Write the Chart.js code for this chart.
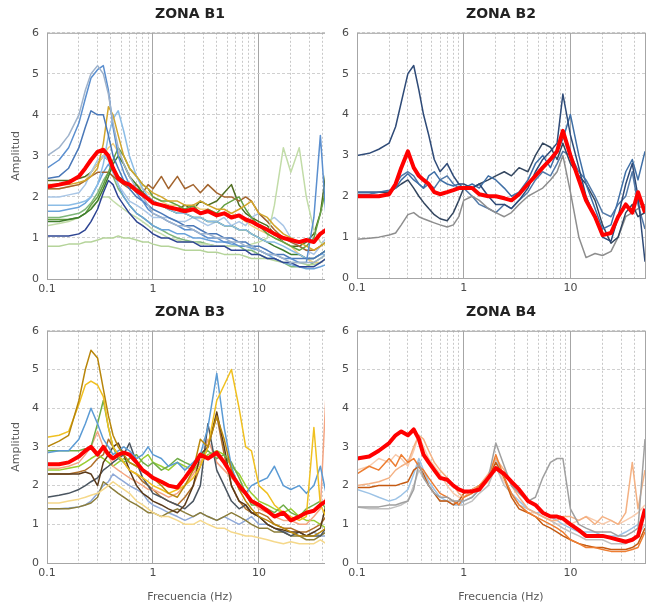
<!DOCTYPE html>
<html>
<head>
<meta charset="utf-8">
<script src="https://cdn.jsdelivr.net/npm/chart.js@4.4.1/dist/chart.umd.min.js"></script>
<style>
  body { margin: 0; background: #fff; }
  .panel { position: absolute; overflow: hidden; background: #fff; }
  .panel canvas { position: absolute; left: 0; top: 0; }
</style>
</head>
<body>
<div class="panel" style="left:0;top:0;width:325px;height:298px"><canvas id="b1" width="337" height="298"></canvas></div>
<div class="panel" style="left:325px;top:0;width:322px;height:298px"><canvas id="b2" width="324" height="298"></canvas></div>
<div class="panel" style="left:0;top:298px;width:325px;height:306px"><canvas id="b3" width="337" height="306"></canvas></div>
<div class="panel" style="left:325px;top:298px;width:322px;height:306px"><canvas id="b4" width="324" height="306"></canvas></div>
<script>
// Frequencies (Hz) shared by every curve
const freq = [0.1, 0.13, 0.16, 0.2, 0.23, 0.26, 0.3, 0.34, 0.38, 0.42, 0.47, 0.53, 0.6, 0.7, 0.8, 0.9, 1, 1.2, 1.4, 1.7, 2, 2.4, 2.8, 3.3, 4, 4.7, 5.5, 6.5, 7.5, 8.5, 10, 12, 14, 17, 20, 24, 28, 33, 38, 43, 50];
const xTicks = [0.1, 0.2, 0.3, 0.4, 0.5, 0.6, 0.7, 0.8, 0.9, 1, 2, 3, 4, 5, 6, 7, 8, 9, 10, 20, 30, 40, 50];
const xLabels = [0.1, 1, 10];

// ZONA B1
const b1Mean = [2.25,2.3,2.35,2.5,2.7,2.9,3.1,3.15,3.0,2.7,2.45,2.35,2.3,2.15,2.05,1.95,1.85,1.8,1.75,1.7,1.65,1.7,1.6,1.65,1.55,1.6,1.5,1.55,1.45,1.4,1.3,1.2,1.1,1.0,0.95,0.9,0.95,0.9,1.1,1.2,1.3];
const b1Lines = [
  [3.0,3.2,3.5,4.0,4.6,5.0,5.2,5.0,4.5,3.8,3.2,2.8,2.5,2.2,2.0,1.8,1.6,1.5,1.4,1.3,1.3,1.2,1.1,1.1,1.0,1.0,0.9,0.9,0.8,0.8,0.7,0.6,0.6,0.5,0.4,0.4,0.4,0.4,0.5,0.6,0.8],
  [2.7,2.9,3.2,3.8,4.4,4.9,5.1,5.2,4.6,3.7,3.0,2.6,2.3,2.1,1.9,1.7,1.6,1.5,1.4,1.3,1.2,1.2,1.1,1.0,1.0,0.9,0.9,0.8,0.8,0.8,0.7,0.6,0.6,0.5,0.5,0.4,0.4,1.5,3.5,1.5,3.1],
  [2.45,2.5,2.7,3.2,3.7,4.1,4.0,4.0,3.5,3.0,2.7,2.4,2.2,2.0,1.9,1.8,1.7,1.6,1.5,1.4,1.3,1.3,1.2,1.1,1.1,1.0,1.0,0.9,0.9,0.8,0.8,0.7,0.6,0.6,0.5,0.5,0.5,0.5,0.6,0.7,0.9],
  [2.3,2.3,2.3,2.35,2.4,2.5,2.7,3.3,4.2,4.0,3.5,3.0,2.7,2.5,2.3,2.2,2.1,2.0,1.9,1.9,1.8,1.8,1.9,1.8,1.7,1.7,1.6,1.7,1.8,1.9,1.6,1.5,1.3,1.1,1.0,0.9,0.8,0.7,0.8,0.9,1.2],
  [1.8,1.8,1.8,1.85,1.9,2.0,2.3,2.8,3.5,3.9,4.1,3.6,3.0,2.5,2.2,2.0,1.9,1.8,1.7,1.6,1.6,1.5,1.5,1.4,1.4,1.3,1.3,1.2,1.2,1.1,1.0,0.9,0.9,0.8,0.7,0.6,0.5,0.5,0.6,0.6,0.7],
  [1.4,1.4,1.45,1.5,1.6,1.7,1.9,2.2,2.5,2.8,3.0,2.8,2.5,2.3,2.1,2.0,1.9,1.8,1.7,1.6,1.6,1.5,1.5,1.4,1.4,1.3,1.3,1.2,1.2,1.1,1.0,0.9,0.8,0.7,0.6,0.6,0.5,0.5,0.6,0.7,1.0],
  [1.45,1.45,1.45,1.5,1.6,1.8,2.0,2.3,2.6,2.9,3.2,3.0,2.7,2.5,2.3,2.2,2.0,1.9,1.9,1.8,1.7,1.8,1.6,1.7,1.6,1.8,1.9,2.0,1.7,1.5,1.3,1.1,1.0,0.9,0.8,0.7,0.8,1.0,1.6,2.2,2.5],
  [1.05,1.05,1.05,1.1,1.2,1.4,1.7,2.1,2.4,2.3,2.0,1.8,1.6,1.4,1.3,1.2,1.1,1.0,1.0,0.9,0.9,0.9,0.8,0.8,0.8,0.8,0.7,0.7,0.7,0.6,0.6,0.5,0.5,0.4,0.4,0.3,0.3,0.3,0.4,0.5,0.7],
  [0.8,0.8,0.85,0.85,0.9,0.9,0.95,1.0,1.0,1.0,1.05,1.0,1.0,0.95,0.9,0.9,0.85,0.8,0.8,0.75,0.7,0.7,0.7,0.65,0.65,0.6,0.6,0.6,0.55,0.5,0.5,0.5,0.45,0.4,0.4,0.4,0.35,0.35,0.4,0.5,0.6],
  [1.3,1.35,1.4,1.5,1.6,1.75,1.9,2.0,2.0,1.9,1.8,1.7,1.6,1.5,1.4,1.3,1.2,1.1,1.0,0.95,0.9,0.9,0.85,0.85,0.8,0.8,0.8,0.8,0.8,0.85,0.9,1.0,1.8,3.2,2.6,3.2,2.0,1.2,0.9,0.8,0.7],
  [2.2,2.2,2.25,2.3,2.4,2.5,2.6,2.6,2.6,2.5,2.4,2.3,2.2,2.3,2.1,2.3,2.2,2.5,2.2,2.5,2.2,2.3,2.1,2.3,2.1,2.0,2.0,1.9,2.0,1.9,1.6,1.4,1.2,1.0,0.9,0.8,0.7,0.7,0.8,0.9,1.0],
  [2.0,2.0,2.05,2.1,2.3,2.6,2.9,3.0,2.9,2.6,2.3,2.1,1.9,1.8,1.7,1.6,1.5,1.5,1.5,1.4,1.4,1.5,1.4,1.3,1.4,1.5,1.3,1.4,1.3,1.5,1.6,1.4,1.5,1.3,1.0,0.8,0.7,0.6,0.8,1.0,1.1],
  [2.2,2.2,2.25,2.3,2.4,2.6,2.8,3.0,3.2,3.3,3.1,2.8,2.5,2.3,2.2,2.1,2.0,1.9,1.8,1.8,1.7,1.8,1.7,1.7,1.6,1.6,1.6,1.5,1.4,1.3,1.2,1.1,1.0,0.9,0.8,0.6,0.5,0.4,0.4,0.5,0.6],
  [1.65,1.65,1.7,1.75,1.85,2.0,2.3,2.6,2.8,2.6,2.3,2.0,1.8,1.6,1.5,1.4,1.3,1.2,1.2,1.1,1.1,1.0,1.0,0.95,0.9,0.9,0.85,0.8,0.8,0.75,0.7,0.6,0.5,0.4,0.35,0.3,0.25,0.25,0.3,0.35,0.4],
  [1.5,1.5,1.55,1.6,1.7,1.85,2.1,2.4,2.6,2.5,2.2,2.0,1.8,1.6,1.5,1.4,1.3,1.2,1.1,1.0,0.95,0.9,0.9,0.85,0.8,0.8,0.8,0.8,0.7,0.7,0.6,0.5,0.5,0.4,0.3,0.3,0.3,0.4,0.5,0.6,0.8],
  [2.4,2.4,2.4,2.45,2.5,2.6,2.8,3.0,2.9,2.7,2.5,2.4,2.3,2.2,2.1,2.0,1.9,1.8,1.8,1.7,1.8,1.7,1.9,1.8,1.9,2.1,2.3,1.8,1.6,1.5,1.4,1.3,1.1,0.9,0.8,0.8,0.9,1.1,1.6,2.6,2.2]
];
const b1Colors = ['#9fb3cc', '#5b8fcf', '#4a78b8', '#d2a62c', '#8cbde6', '#3f7d2c', '#64a043', '#2e4593', '#b5d49a', '#c2dca8', '#a3652f', '#a9c6e6', '#f2cf7e', '#6aa3db', '#7fb77a', '#4f6d20'];

// ZONA B2
const b2Mean = [2.0,2.0,2.0,2.05,2.3,2.7,3.1,2.7,2.5,2.4,2.3,2.1,2.05,2.1,2.15,2.2,2.2,2.2,2.05,2.0,2.0,1.95,1.9,2.05,2.3,2.5,2.7,2.9,3.1,3.6,3.0,2.4,1.9,1.5,1.05,1.1,1.5,1.8,1.6,2.1,1.6];
const b2Lines = [
  [3.0,3.05,3.15,3.3,3.7,4.3,5.0,5.2,4.6,4.0,3.5,2.9,2.6,2.8,2.5,2.3,2.3,2.2,2.3,2.0,1.8,1.8,1.7,1.9,2.2,2.6,2.9,3.1,3.3,4.5,3.5,2.7,2.0,1.5,1.0,0.9,1.5,2.3,2.8,2.0,0.4],
  [2.1,2.1,2.1,2.15,2.2,2.4,2.55,2.4,2.3,2.2,2.5,2.6,2.4,2.3,2.25,2.3,2.2,2.3,2.2,2.5,2.4,2.2,2.0,2.1,2.4,2.8,3.0,2.7,3.1,3.4,4.0,3.0,2.3,1.7,1.2,1.3,1.9,2.6,2.9,2.4,3.1],
  [2.1,2.1,2.1,2.1,2.2,2.3,2.4,2.2,2.0,1.85,1.7,1.55,1.45,1.4,1.6,1.9,2.2,2.2,2.3,2.4,2.5,2.6,2.5,2.7,2.6,3.0,3.3,3.2,2.9,3.3,2.8,2.5,2.3,1.9,1.3,0.85,1.0,1.6,1.8,1.5,1.6],
  [0.95,0.97,1.0,1.05,1.1,1.3,1.55,1.6,1.5,1.45,1.4,1.35,1.3,1.25,1.3,1.5,1.9,2.0,1.9,1.7,1.6,1.5,1.6,1.8,2.0,2.1,2.2,2.4,2.6,3.0,2.1,1.0,0.5,0.6,0.55,0.65,1.0,1.5,1.6,1.7,1.8],
  [2.05,2.05,2.1,2.1,2.3,2.5,2.6,2.5,2.3,2.2,2.3,2.2,2.4,2.5,2.3,2.2,2.2,2.0,1.8,1.7,1.6,1.8,1.7,1.9,2.1,2.4,2.6,2.5,2.8,3.1,3.0,2.6,2.4,2.0,1.6,1.5,1.8,2.0,2.6,1.8,1.2]
];
const b2Colors = ['#2f4b78', '#3f6fa6', '#33465f', '#8e8e8e', '#5279a8'];

// ZONA B3
const b3Mean = [2.55,2.55,2.6,2.75,2.9,3.0,2.8,3.0,2.8,2.7,2.8,2.85,2.8,2.6,2.4,2.3,2.2,2.1,2.0,1.95,2.2,2.5,2.8,2.7,2.85,2.6,2.3,2.0,1.8,1.6,1.5,1.35,1.2,1.3,1.1,1.2,1.3,1.35,1.5,1.6,2.1];
const b3Lines = [
  [3.0,3.15,3.3,4.2,5.0,5.5,5.3,4.5,3.8,3.3,3.0,2.8,2.6,2.5,2.4,2.3,2.2,2.0,1.8,1.7,2.0,2.4,3.2,3.0,3.8,3.2,2.4,1.9,1.6,1.4,1.2,1.1,1.0,0.9,0.8,0.7,0.7,0.7,0.8,0.9,1.0],
  [3.25,3.3,3.4,4.1,4.6,4.7,4.6,4.3,3.5,3.0,2.8,2.6,2.4,2.3,2.2,2.1,2.0,1.9,1.8,1.9,2.0,2.2,2.5,3.0,4.2,4.6,5.0,4.0,3.0,2.9,2.0,1.8,1.5,1.3,1.2,1.1,1.2,3.5,1.5,1.2,0.3],
  [2.85,2.9,2.9,3.2,3.6,4.0,3.6,3.2,3.0,2.8,2.9,3.0,2.9,2.7,2.8,3.0,2.8,2.7,2.5,2.6,2.4,2.6,2.8,3.5,4.9,3.5,2.5,1.9,1.8,2.0,2.1,2.2,2.5,2.0,1.9,2.0,1.8,2.0,2.5,1.8,1.2],
  [2.9,2.9,2.9,2.9,2.95,3.0,3.6,4.2,3.5,3.0,2.7,2.6,2.7,2.8,2.6,2.5,2.6,2.4,2.5,2.7,2.6,2.5,2.8,2.9,2.7,2.8,2.6,2.2,1.8,1.5,1.5,1.4,1.3,1.5,1.3,1.2,1.4,1.5,1.6,1.4,1.2],
  [2.3,2.3,2.3,2.3,2.35,2.3,2.0,2.6,2.8,3.0,3.1,2.8,2.4,2.0,1.8,1.7,1.6,1.5,1.4,1.3,1.5,2.0,2.8,3.0,3.9,3.0,2.0,1.6,1.5,1.3,1.2,1.0,0.9,0.85,0.8,0.8,0.7,0.8,0.9,1.5,3.0],
  [1.7,1.75,1.8,1.9,2.0,2.1,2.2,2.4,2.5,2.6,2.7,2.8,3.1,2.6,2.2,2.0,1.8,1.7,1.6,1.5,1.4,1.6,2.0,3.6,2.4,2.0,1.6,1.4,1.5,1.3,1.2,1.0,0.9,0.8,0.7,0.8,0.7,0.7,0.7,0.9,1.1],
  [1.55,1.55,1.6,1.65,1.7,1.75,1.8,1.9,2.0,2.1,2.0,1.9,1.8,1.6,1.5,1.4,1.3,1.2,1.2,1.1,1.0,1.0,1.1,1.0,0.9,0.9,0.8,0.75,0.7,0.7,0.65,0.6,0.55,0.5,0.55,0.5,0.5,0.5,0.6,0.5,0.4],
  [1.4,1.4,1.4,1.45,1.5,1.55,1.7,2.1,2.0,1.9,1.8,1.7,1.6,1.5,1.4,1.3,1.3,1.2,1.3,1.4,1.3,1.2,1.3,1.2,1.1,1.2,1.3,1.2,1.1,1.0,0.9,0.9,0.8,0.8,0.7,0.7,0.6,0.6,0.7,0.8,0.9],
  [1.4,1.4,1.42,1.45,1.5,1.6,1.8,2.0,2.1,2.3,2.2,2.1,2.0,1.9,1.8,1.6,1.5,1.4,1.3,1.2,1.1,1.2,1.3,1.2,1.1,1.2,1.1,1.0,1.1,1.2,1.0,1.0,0.9,0.8,0.8,0.7,0.7,0.8,0.7,0.7,0.8],
  [2.45,2.45,2.5,2.6,2.8,3.0,3.4,3.0,2.8,2.5,2.4,2.3,2.2,2.1,2.0,1.9,1.9,1.8,1.7,1.8,2.0,2.3,2.6,3.2,2.6,2.4,2.2,2.0,1.8,1.6,1.4,1.3,1.2,1.1,1.1,1.0,1.0,1.2,1.4,4.4,1.2],
  [2.4,2.4,2.45,2.5,2.6,2.7,2.8,2.7,2.6,2.5,2.6,2.7,2.6,2.5,2.7,2.8,2.6,2.5,2.4,2.6,2.5,2.4,2.6,2.8,2.9,2.8,2.5,2.3,2.0,1.8,1.6,1.5,1.4,1.3,1.4,1.2,1.1,1.1,1.0,0.9,0.8],
  [2.3,2.3,2.3,2.35,2.4,2.5,2.7,2.8,3.2,3.0,2.8,2.6,2.4,2.3,2.1,2.0,1.9,1.7,1.6,1.5,1.7,2.0,2.5,3.0,3.8,2.8,2.0,1.6,1.4,1.3,1.3,1.2,1.0,0.9,0.9,0.8,0.8,0.9,1.0,1.2,2.8]
];
const b3Colors = ['#b8860b', '#f0c020', '#5b9bd5', '#70ad47', '#5a3a1a', '#4a5560', '#f5d88a', '#8b7d3a', '#8fa9d8', '#f4a582', '#9acd32', '#b0702a'];

// ZONA B4
const b4Mean = [2.7,2.75,2.9,3.1,3.3,3.4,3.3,3.45,3.2,2.8,2.6,2.4,2.2,2.15,2.0,1.9,1.85,1.85,1.9,2.2,2.45,2.3,2.1,1.9,1.6,1.5,1.3,1.2,1.2,1.15,1.0,0.85,0.7,0.7,0.7,0.65,0.6,0.55,0.6,0.7,1.4];
const b4Lines = [
  [1.45,1.45,1.45,1.5,1.5,1.55,1.6,1.9,2.6,2.2,2.0,1.8,1.7,1.7,1.6,1.6,1.6,1.7,1.9,2.2,3.1,2.5,2.0,1.8,1.6,1.7,2.2,2.6,2.7,2.7,1.4,1.0,0.9,0.8,0.8,0.8,0.7,0.7,0.8,0.9,3.2],
  [2.3,2.5,2.4,2.7,2.5,2.8,2.6,2.7,2.5,2.4,2.2,2.0,1.8,1.7,1.6,1.5,1.7,1.8,2.0,2.2,2.8,2.2,1.8,1.5,1.3,1.2,1.1,1.0,0.9,0.8,0.6,0.5,0.4,0.4,0.35,0.3,0.3,0.3,0.35,0.4,0.8],
  [2.0,2.05,2.1,2.2,2.4,2.5,2.6,3.0,3.3,3.2,2.9,2.6,2.4,2.2,2.0,1.8,1.7,1.9,2.0,2.3,2.7,2.4,2.0,1.7,1.4,1.3,1.2,1.1,1.1,1.2,1.2,1.1,1.2,1.0,1.2,1.1,1.0,1.3,2.6,1.4,2.4],
  [1.95,1.95,2.0,2.0,2.0,2.05,2.1,2.4,2.5,2.3,2.0,1.8,1.6,1.6,1.5,1.6,1.8,1.9,2.0,2.2,2.6,2.2,1.7,1.4,1.3,1.2,1.0,0.9,0.8,0.7,0.6,0.5,0.45,0.4,0.4,0.35,0.35,0.35,0.4,0.5,0.9],
  [1.9,1.8,1.7,1.6,1.65,1.75,1.9,2.3,2.7,2.4,2.1,1.9,1.7,1.6,1.5,1.5,1.6,1.7,1.9,2.2,2.7,2.2,1.8,1.6,1.4,1.3,1.3,1.2,1.1,1.0,0.9,0.8,0.8,0.8,0.7,0.7,0.7,0.8,0.9,1.0,1.2],
  [1.45,1.4,1.4,1.4,1.45,1.5,1.6,2.0,2.4,2.2,2.0,1.8,1.6,1.6,1.6,1.5,1.5,1.6,1.8,2.0,2.5,2.0,1.8,1.5,1.4,1.3,1.2,1.1,1.0,0.9,0.8,0.7,0.6,0.6,0.6,0.5,0.5,0.5,0.6,0.7,1.0],
  [2.4,2.5,2.7,2.6,2.8,2.7,2.5,2.9,3.3,3.0,2.7,2.5,2.3,2.0,1.8,1.7,1.7,1.8,1.9,2.1,2.5,2.1,1.8,1.5,1.3,1.3,1.2,1.1,1.0,1.0,1.0,1.1,1.2,1.1,1.0,1.1,1.0,1.1,1.2,1.3,1.5]
];
const b4Colors = ['#a0a0a0', '#ed7d31', '#f4b183', '#c55a11', '#9dc3e6', '#c0c0c0', '#f8cbad'];

Chart.defaults.font.family = "'DejaVu Sans', Verdana, sans-serif";
Chart.defaults.color = '#4a4a4a';

// Frame round the plot area
const framePlugin = {
  id: 'frame',
  afterDraw(chart) {
    const a = chart.chartArea;
    const ctx = chart.ctx;
    ctx.save();
    ctx.strokeStyle = '#a6a6a6';
    ctx.lineWidth = 1;
    ctx.strokeRect(a.left + 0.5, a.top + 0.5, a.right - a.left, a.bottom - a.top);
    ctx.restore();
  }
};

function toPoints(vals) {
  return freq.map((f, i) => ({ x: f, y: vals[i] }));
}

function makePanel(id, title, mean, lines, colors, opts) {
  const datasets = [{
    data: toPoints(mean),
    borderColor: '#ff0000',
    borderWidth: 4,
    order: 0
  }];
  lines.forEach((vals, i) => {
    datasets.push({
      data: toPoints(vals),
      borderColor: colors[i],
      borderWidth: 1.5,
      order: 1
    });
  });

  new Chart(document.getElementById(id), {
    type: 'line',
    data: { datasets: datasets },
    plugins: [framePlugin],
    options: {
      responsive: false,
      animation: false,
      layout: { padding: 0 },
      elements: {
        point: { radius: 0 },
        line: { tension: 0, borderJoinStyle: 'round' }
      },
      plugins: {
        legend: { display: false },
        tooltip: { enabled: false },
        title: {
          display: true,
          fullSize: false,
          text: title,
          color: '#222',
          font: { size: 14, weight: 'bold' },
          padding: { top: 6, bottom: 10 }
        }
      },
      scales: {
        x: {
          type: 'logarithmic',
          min: 0.1,
          max: 50,
          afterBuildTicks: scale => { scale.ticks = xTicks.map(v => ({ value: v })); },
          afterFit: scale => { scale.height = opts.xHeight; },
          ticks: {
            autoSkip: false,
            maxRotation: 0,
            font: { size: 11 },
            padding: 4,
            callback: v => xLabels.includes(v) ? String(v) : ''
          },
          grid: {
            drawTicks: false,
            color: c => (c.tick && xLabels.includes(c.tick.value)) ? '#a6a6a6' : '#c8c8c8'
          },
          border: {
            display: false,
            dash: c => (c.tick && xLabels.includes(c.tick.value)) ? [] : [2, 2]
          },
          title: {
            display: opts.xTitle,
            text: 'Frecuencia (Hz)',
            color: '#595959',
            font: { size: 11 },
            padding: { top: 2, bottom: 0 }
          }
        },
        y: {
          min: 0,
          max: 6,
          afterFit: scale => { scale.width = opts.yWidth; },
          ticks: { stepSize: 1, font: { size: 11 }, padding: 8 },
          grid: { drawTicks: false, color: '#d0d0d0' },
          border: { display: false, dash: [3, 2] },
          title: {
            display: opts.yTitle,
            text: 'Amplitud',
            color: '#595959',
            font: { size: 11 },
            padding: { top: 10, bottom: 2 }
          }
        }
      }
    }
  });
}

makePanel('b1', 'ZONA B1', b1Mean, b1Lines, b1Colors, { yWidth: 47, xHeight: 19, yTitle: true, xTitle: false });
makePanel('b2', 'ZONA B2', b2Mean, b2Lines, b2Colors, { yWidth: 32, xHeight: 20, yTitle: false, xTitle: false });
makePanel('b3', 'ZONA B3', b3Mean, b3Lines, b3Colors, { yWidth: 47, xHeight: 41, yTitle: true, xTitle: true });
makePanel('b4', 'ZONA B4', b4Mean, b4Lines, b4Colors, { yWidth: 32, xHeight: 41, yTitle: false, xTitle: true });
</script>
</body>
</html>
